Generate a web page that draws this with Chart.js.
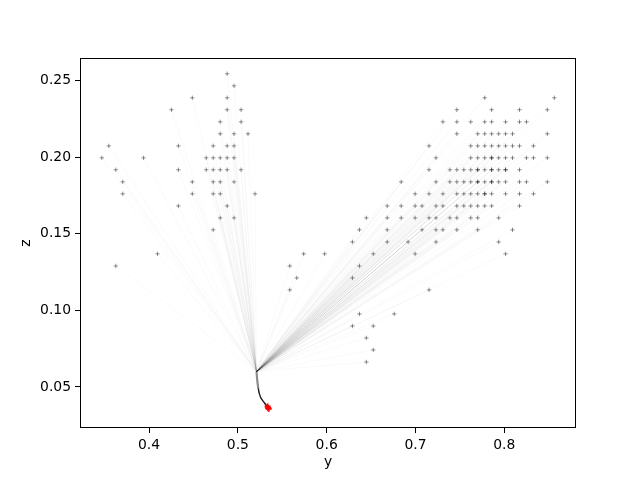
<!DOCTYPE html>
<html>
<head>
<meta charset="utf-8">
<script src="https://cdn.jsdelivr.net/npm/chart.js@4.4.1/dist/chart.umd.min.js"></script>
<style>
  html, body { margin: 0; padding: 0; background: #fff; }
</style>
</head>
<body>
<canvas id="chart" width="640" height="480"></canvas>
<script>
// z of each row of start points (top to bottom)
var zRows = [0.2545, 0.2466, 0.2388, 0.2310, 0.2231, 0.2153, 0.2074, 0.1996, 0.1918, 0.1839,
  0.1761, 0.1682, 0.1604, 0.1526, 0.1447, 0.1369, 0.1290, 0.1212, 0.1134, 0.0977,
  0.0898, 0.0820, 0.0742, 0.0663];

// y of the start points in each row (a repeated value = two points on top of each other)
var yRows = [
  [0.4879],
  [0.4957],
  [0.4487, 0.4879, 0.7780, 0.8564],
  [0.4252, 0.4879, 0.5036, 0.7466, 0.7858, 0.8172, 0.8485],
  [0.4801, 0.5036, 0.7309, 0.7466, 0.7623, 0.7780, 0.7858, 0.8015, 0.8172, 0.8250],
  [0.4801, 0.4957, 0.5114, 0.7466, 0.7701, 0.7780, 0.7858, 0.7937, 0.8015, 0.8093, 0.8485],
  [0.3546, 0.4330, 0.4722, 0.4879, 0.4957, 0.7153, 0.7623, 0.7701, 0.7780, 0.7858, 0.7937, 0.8015, 0.8093, 0.8172, 0.8329],
  [0.3468, 0.3938, 0.4644, 0.4722, 0.4801, 0.4879, 0.4957, 0.7231, 0.7623, 0.7701, 0.7780, 0.7858, 0.7858, 0.7937, 0.8015, 0.8093, 0.8250, 0.8329, 0.8485],
  [0.3625, 0.4330, 0.4644, 0.4722, 0.4801, 0.4879, 0.5036, 0.7153, 0.7388, 0.7466, 0.7545, 0.7623, 0.7701, 0.7701, 0.7780, 0.7858, 0.7858, 0.7937, 0.8015, 0.8015, 0.8172],
  [0.3703, 0.4487, 0.4722, 0.4801, 0.4957, 0.6839, 0.7231, 0.7388, 0.7466, 0.7545, 0.7623, 0.7701, 0.7701, 0.7780, 0.7858, 0.7858, 0.7937, 0.8015, 0.8172, 0.8250, 0.8485],
  [0.3703, 0.4487, 0.4722, 0.4801, 0.5193, 0.6996, 0.7153, 0.7309, 0.7466, 0.7545, 0.7623, 0.7701, 0.7780, 0.7780, 0.7858, 0.8015, 0.8172, 0.8329],
  [0.4330, 0.4879, 0.6682, 0.6839, 0.6996, 0.7074, 0.7231, 0.7309, 0.7466, 0.7545, 0.7623, 0.7701, 0.7780, 0.7858, 0.8172],
  [0.4801, 0.4957, 0.6447, 0.6682, 0.6839, 0.6996, 0.7153, 0.7231, 0.7388, 0.7466, 0.7623, 0.7701, 0.7937],
  [0.4722, 0.6369, 0.6682, 0.7074, 0.7231, 0.7309, 0.7466, 0.7701, 0.8093],
  [0.6290, 0.6682, 0.6917, 0.7231, 0.7937],
  [0.4095, 0.5741, 0.5977, 0.6525, 0.6996, 0.8015],
  [0.3625, 0.5585, 0.6369],
  [0.5663, 0.6290],
  [0.5585, 0.7153],
  [0.6369, 0.6761],
  [0.6290, 0.6525],
  [0.6447],
  [0.6525],
  [0.6447]
];

// where the paths meet, the common tail (grey then black), and the final (red) position
var meetY = 0.5210, meetZ = 0.0600;
var upperTailY = [0.5210, 0.5218, 0.5230];
var upperTailZ = [0.0600, 0.0545, 0.0490];
var lowerTailY = [0.5230, 0.5240, 0.5262, 0.5300, 0.5341];
var lowerTailZ = [0.0490, 0.0460, 0.0425, 0.0395, 0.0363];
var endY = [0.5341, 0.5335, 0.5347];
var endZ = [0.0363, 0.0372, 0.0358];

var xTicks = [0.4, 0.5, 0.6, 0.7, 0.8];
var zTicks = [0.05, 0.10, 0.15, 0.20, 0.25];

var starts = [];
zRows.forEach(function(z, r) {
  yRows[r].forEach(function(y) { starts.push({x: y, y: z}); });
});
function pts(ys, zs) { return ys.map(function(y, i) { return {x: y, y: zs[i]}; }); }
var ends = pts(endY, endZ);

var datasets = [];
datasets.push({
  data: ends, pointStyle: 'cross', pointRadius: 3, pointBorderWidth: 2,
  borderColor: '#ff0000', order: 0
});
datasets.push({
  data: starts, pointStyle: 'cross', pointRadius: 2.2, pointBorderWidth: 1,
  borderColor: 'rgba(0,0,0,0.42)', order: 1
});
datasets.push({
  data: pts(lowerTailY, lowerTailZ), showLine: true, pointRadius: 0, borderWidth: 1.4, tension: 0.3,
  borderColor: 'rgba(0,0,0,0.9)', order: 2
});
datasets.push({
  data: pts(upperTailY, upperTailZ), showLine: true, pointRadius: 0, borderWidth: 2.2, tension: 0.3,
  borderColor: 'rgba(0,0,0,0.45)', order: 2
});
starts.forEach(function(p) {
  datasets.push({
    data: [p, {x: meetY, y: meetZ}],
    showLine: true, pointRadius: 0, borderWidth: 0.6,
    borderColor: 'rgba(0,0,0,0.045)', order: 3
  });
});

var font = {family: 'DejaVu Sans', size: 13.9};

var frame = {
  id: 'frame',
  afterDraw: function(chart) {
    var a = chart.chartArea, ctx = chart.ctx;
    ctx.save();
    ctx.strokeStyle = '#000';
    ctx.lineWidth = 1;
    ctx.strokeRect(Math.round(a.left) + 0.5, Math.round(a.top) + 0.5,
      Math.round(a.right - a.left) - 1, Math.round(a.bottom - a.top) - 1);
    ctx.restore();
  }
};

Chart.defaults.color = '#000';

new Chart(document.getElementById('chart').getContext('2d'), {
  type: 'scatter',
  data: { datasets: datasets },
  options: {
    responsive: false,
    animation: false,
    devicePixelRatio: 1,
    layout: { padding: { left: 0, right: 64, top: 58, bottom: 0 } },
    plugins: { legend: { display: false }, tooltip: { enabled: false } },
    scales: {
      x: {
        type: 'linear', min: 0.3222, max: 0.8808,
        afterBuildTicks: function(s) { s.ticks = xTicks.map(function(v) { return {value: v}; }); },
        afterFit: function(s) { s.height = 52; },
        ticks: { font: font, color: '#000', padding: 4, maxRotation: 0,
          callback: function(v) { return v.toFixed(1); } },
        grid: { drawOnChartArea: false, drawTicks: true, tickLength: 5, tickColor: '#000', tickWidth: 1 },
        border: { display: false },
        title: { display: true, text: 'y', font: font, color: '#000', padding: { top: 0, bottom: 9 } }
      },
      y: {
        type: 'linear', min: 0.0232, max: 0.2648,
        afterBuildTicks: function(s) { s.ticks = zTicks.map(function(v) { return {value: v}; }); },
        afterFit: function(s) { s.width = 80; },
        ticks: { font: font, color: '#000', padding: 4,
          callback: function(v) { return v.toFixed(2); } },
        grid: { drawOnChartArea: false, drawTicks: true, tickLength: 5, tickColor: '#000', tickWidth: 1 },
        border: { display: false },
        title: { display: true, text: 'z', font: font, color: '#000', padding: { top: 18, bottom: 0 } }
      }
    }
  },
  plugins: [frame]
});
</script>
</body>
</html>
